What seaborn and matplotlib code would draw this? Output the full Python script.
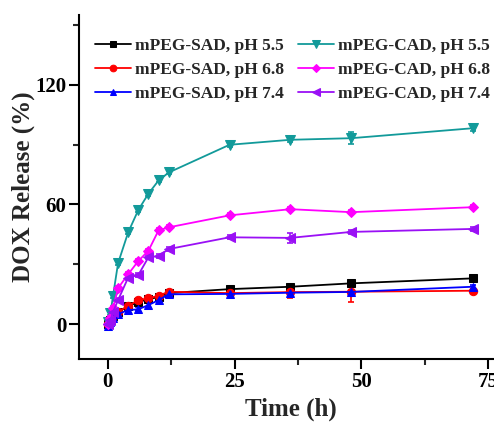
import numpy as np
import pandas as pd
import matplotlib
matplotlib.use("Agg")
import matplotlib.pyplot as plt
import seaborn as sns
from matplotlib.ticker import MultipleLocator

# Release time points (h)
time_h = [0, 0.5, 1, 2, 4, 6, 8, 10, 12, 24, 36, 48, 72]

# Cumulative DOX release (%)
sad_55 = [0, 2, 4, 6, 9, 11, 12.5, 13.5, 15.5, 17.5, 18.7, 20.4, 22.9]
sad_68 = [0, 2, 4, 6.2, 9, 12, 12.9, 14.2, 16.2, 15.5, 16.0, 16.2, 16.7]
sad_74 = [-1, 1, 3, 5, 7, 7.4, 9.5, 12, 14.9, 15.1, 15.7, 16.1, 18.7]
cad_55 = [1, 5.4, 14, 30.5, 46, 57.2, 65.4, 72, 76, 89.9, 92.4, 93.2, 98.2]
cad_68 = [0, 3, 8, 18, 25, 31.6, 36.8, 47, 48.5, 54.5, 57.6, 56.1, 58.6]
cad_74 = [0, 2, 6, 12, 23.3, 24.6, 33.5, 34.1, 37.6, 43.5, 43.2, 46.2, 47.7]

# Standard deviations
sad_55_sd = [1, 1, 1, 1, 1, 1, 1, 1, 1, 1, 1, 1, 1]
sad_68_sd = [1, 1, 1, 1, 1, 1, 1, 1, 1, 1, 3, 5, 1]
sad_74_sd = [1, 1, 1, 1, 1, 1, 1, 1, 1, 1, 1, 1, 1]
cad_55_sd = [1, 1, 1, 1, 1, 1, 1, 1, 1, 1, 1, 3, 1.5]
cad_68_sd = [1, 1, 1, 1, 1, 1, 1, 1, 1, 1, 1, 1, 1]
cad_74_sd = [1, 1, 1, 1, 1, 1, 1, 1, 1, 1, 2.4, 1, 1]

labels = ["mPEG-SAD, pH 5.5", "mPEG-SAD, pH 6.8", "mPEG-SAD, pH 7.4",
          "mPEG-CAD, pH 5.5", "mPEG-CAD, pH 6.8", "mPEG-CAD, pH 7.4"]
values = [sad_55, sad_68, sad_74, cad_55, cad_68, cad_74]
errors = [sad_55_sd, sad_68_sd, sad_74_sd, cad_55_sd, cad_68_sd, cad_74_sd]
colors = ["#000000", "#FF0000", "#0000FF", "#129A9A", "#FF00FF", "#9A10F5"]
markers = ["s", "o", "^", "v", "D", "<"]
msizes = [5.5, 6, 6, 6.5, 5.5, 6.5]

df = pd.concat(
    [pd.DataFrame({"time": time_h, "release": v, "sd": e, "series": lab})
     for lab, v, e in zip(labels, values, errors)],
    ignore_index=True,
)

sns.set_theme(style="ticks")
plt.rcParams["font.family"] = ["Liberation Serif", "DejaVu Serif"]
plt.rcParams["font.weight"] = "bold"
plt.rcParams["axes.labelweight"] = "bold"

fig = plt.figure(figsize=(4.94, 4.22), dpi=100)
ax = fig.add_axes([0.16, 0.149, 0.879, 0.8155])

for lab, col, mk, ms in zip(labels, colors, markers, msizes):
    sub = df[df["series"] == lab]
    ax.errorbar(sub["time"], sub["release"], yerr=sub["sd"], fmt="none",
                ecolor=col, elinewidth=1.2, capsize=2.5, capthick=1.2, zorder=2)
    sns.lineplot(data=sub, x="time", y="release", ax=ax, color=col,
                 marker=mk, markersize=ms, markeredgecolor=col,
                 linewidth=1.3, label=lab, zorder=3)

ax.set_xlim(-5.7, 80)
ax.set_ylim(-17.6, 155)
ax.xaxis.set_major_locator(MultipleLocator(25))
ax.xaxis.set_minor_locator(MultipleLocator(12.5))
ax.yaxis.set_major_locator(MultipleLocator(60))
ax.yaxis.set_minor_locator(MultipleLocator(30))

for side in ["top", "right"]:
    ax.spines[side].set_visible(False)
for side in ["left", "bottom"]:
    ax.spines[side].set_linewidth(1.5)
    ax.spines[side].set_color("black")

ax.tick_params(axis="both", which="major", direction="out", length=7,
               width=1.5, labelsize=15, pad=2, colors="black")
ax.tick_params(axis="both", which="minor", direction="out", length=4,
               width=1.5)
for t in ax.get_xticklabels() + ax.get_yticklabels():
    t.set_fontweight("bold")

ax.set_xlabel("Time (h)", fontsize=18, fontweight="bold")
ax.set_ylabel("DOX Release (%)", fontsize=18, fontweight="bold", labelpad=0)
ax.xaxis.set_label_coords((291 - 79) / 434.0, -0.113)

leg = ax.legend(loc="upper left", bbox_to_anchor=(88 / 494, 1 - 31 / 422),
                bbox_transform=fig.transFigure, ncol=2, frameon=False,
                prop={"family": "Liberation Serif", "weight": "bold", "size": 12.5},
                handlelength=2.1, handletextpad=0.2, columnspacing=0.8,
                labelspacing=0.45, borderaxespad=0, markerscale=0.8)

fig.savefig("out.png", dpi=100)
